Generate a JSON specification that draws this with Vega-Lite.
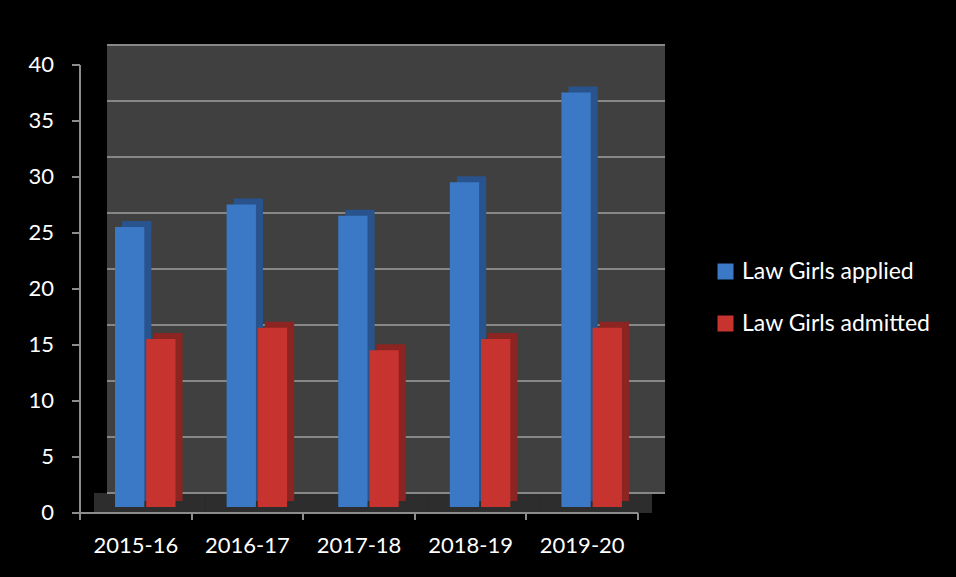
{
  "$schema": "https://vega.github.io/schema/vega-lite/v6.json",
  "width": 558,
  "height": 448,
  "autosize": {"type": "none"},
  "padding": {"left": 107, "top": 45, "right": 291, "bottom": 84},
  "background": "#000000",
  "config": {
    "view": {"fill": "#404040", "stroke": null},
    "font": "Lato"
  },
  "data": {
    "values": [
      {"year": "2015-16", "series": "Law Girls applied", "value": 25},
      {"year": "2015-16", "series": "Law Girls admitted", "value": 15},
      {"year": "2016-17", "series": "Law Girls applied", "value": 27},
      {"year": "2016-17", "series": "Law Girls admitted", "value": 16},
      {"year": "2017-18", "series": "Law Girls applied", "value": 26},
      {"year": "2017-18", "series": "Law Girls admitted", "value": 14},
      {"year": "2018-19", "series": "Law Girls applied", "value": 29},
      {"year": "2018-19", "series": "Law Girls admitted", "value": 15},
      {"year": "2019-20", "series": "Law Girls applied", "value": 37},
      {"year": "2019-20", "series": "Law Girls admitted", "value": 16}
    ]
  },
  "layer": [
    {
      "mark": {"type": "rect", "color": "#2d2d2d", "xOffset": -13, "clip": false},
      "encoding": {
        "x": {
          "field": "year", "type": "nominal", "sort": null,
          "scale": {"paddingInner": 0, "paddingOuter": 0},
          "axis": {
            "title": null, "labelAngle": 0, "labelColor": "#ffffff", "labelFontSize": 22, "labelFont": "Lato",
            "labelPadding": 16, "domainColor": "#8c8c8c", "domainWidth": 2, "tickColor": "#8c8c8c", "tickWidth": 2,
            "tickSize": 7, "tickBand": "extent", "offset": 47, "translate": -27, "grid": false
          }
        },
        "y": {
          "datum": 0, "type": "quantitative",
          "scale": {"domain": [0, 40]},
          "axis": {
            "title": null, "values": [0, 5, 10, 15, 20, 25, 30, 35, 40], "labelColor": "#ffffff", "labelFontSize": 22, "labelFont": "Lato",
            "labelPadding": 18, "domainColor": "#8c8c8c", "domainWidth": 2, "tickColor": "#8c8c8c", "tickWidth": 2,
            "tickSize": 8, "offset": 47, "translate": 20, "grid": false
          }
        },
        "y2": {"datum": -1.79}
      }
    },
    {
      "data": {"values": [{"value": 0}, {"value": 5}, {"value": 10}, {"value": 15}, {"value": 20}, {"value": 25}, {"value": 30}, {"value": 35}, {"value": 40}]},
      "mark": {"type": "rule", "color": "#878787", "strokeWidth": 2},
      "encoding": {
        "y": {
          "field": "value", "type": "quantitative",
          "scale": {"domain": [0, 40]},
          "axis": {
            "title": null, "values": [0, 5, 10, 15, 20, 25, 30, 35, 40], "labelColor": "#ffffff", "labelFontSize": 22, "labelFont": "Lato",
            "labelPadding": 18, "domainColor": "#8c8c8c", "domainWidth": 2, "tickColor": "#8c8c8c", "tickWidth": 2,
            "tickSize": 8, "offset": 47, "translate": 20, "grid": false
          }
        }
      }
    },
    {
      "mark": {"type": "bar", "yOffset": 8},
      "encoding": {
        "x": {
          "field": "year", "type": "nominal", "sort": null,
          "scale": {"paddingInner": 0, "paddingOuter": 0},
          "axis": {
            "title": null, "labelAngle": 0, "labelColor": "#ffffff", "labelFontSize": 22, "labelFont": "Lato",
            "labelPadding": 16, "domainColor": "#8c8c8c", "domainWidth": 2, "tickColor": "#8c8c8c", "tickWidth": 2,
            "tickSize": 7, "tickBand": "extent", "offset": 47, "translate": -27, "grid": false
          }
        },
        "y": {
          "field": "value", "type": "quantitative",
          "scale": {"domain": [0, 40]},
          "axis": {
            "title": null, "values": [0, 5, 10, 15, 20, 25, 30, 35, 40], "labelColor": "#ffffff", "labelFontSize": 22, "labelFont": "Lato",
            "labelPadding": 18, "domainColor": "#8c8c8c", "domainWidth": 2, "tickColor": "#8c8c8c", "tickWidth": 2,
            "tickSize": 8, "offset": 47, "translate": 20, "grid": false
          }
        },
        "xOffset": {"field": "series", "type": "nominal", "sort": ["Law Girls applied", "Law Girls admitted"], "scale": {"paddingOuter": 0.82, "paddingInner": 0.06, "align": 0.295}},
        "fill": {
          "condition": {"test": "datum.series == 'Law Girls applied'", "value": "#28538c"},
          "value": "#8c2421"
        }
      }
    },
    {
      "mark": {"type": "bar", "yOffset": 14},
      "encoding": {
        "x": {
          "field": "year", "type": "nominal", "sort": null,
          "scale": {"paddingInner": 0, "paddingOuter": 0},
          "axis": {
            "title": null, "labelAngle": 0, "labelColor": "#ffffff", "labelFontSize": 22, "labelFont": "Lato",
            "labelPadding": 16, "domainColor": "#8c8c8c", "domainWidth": 2, "tickColor": "#8c8c8c", "tickWidth": 2,
            "tickSize": 7, "tickBand": "extent", "offset": 47, "translate": -27, "grid": false
          }
        },
        "y": {
          "field": "value", "type": "quantitative",
          "scale": {"domain": [0, 40]},
          "axis": {
            "title": null, "values": [0, 5, 10, 15, 20, 25, 30, 35, 40], "labelColor": "#ffffff", "labelFontSize": 22, "labelFont": "Lato",
            "labelPadding": 18, "domainColor": "#8c8c8c", "domainWidth": 2, "tickColor": "#8c8c8c", "tickWidth": 2,
            "tickSize": 8, "offset": 47, "translate": 20, "grid": false
          }
        },
        "xOffset": {"field": "series", "type": "nominal", "sort": ["Law Girls applied", "Law Girls admitted"], "scale": {"paddingOuter": 0.82, "paddingInner": 0.06, "align": 0.157}},
        "color": {
          "field": "series", "type": "nominal",
          "sort": ["Law Girls applied", "Law Girls admitted"],
          "scale": {"domain": ["Law Girls applied", "Law Girls admitted"], "range": ["#3b78c6", "#c7332f"]},
          "legend": {
            "title": null, "orient": "none", "legendX": 607, "legendY": 215, "padding": 0,
            "symbolType": "square", "symbolSize": 256, "symbolStrokeWidth": 0, "symbolOpacity": 1,
            "labelColor": "#ffffff", "labelFontSize": 23, "labelFont": "Lato", "labelOffset": 5, "rowPadding": 28, "labelLimit": 400
          }
        }
      }
    }
  ],
  "resolve": {"scale": {"xOffset": "independent"}}
}
